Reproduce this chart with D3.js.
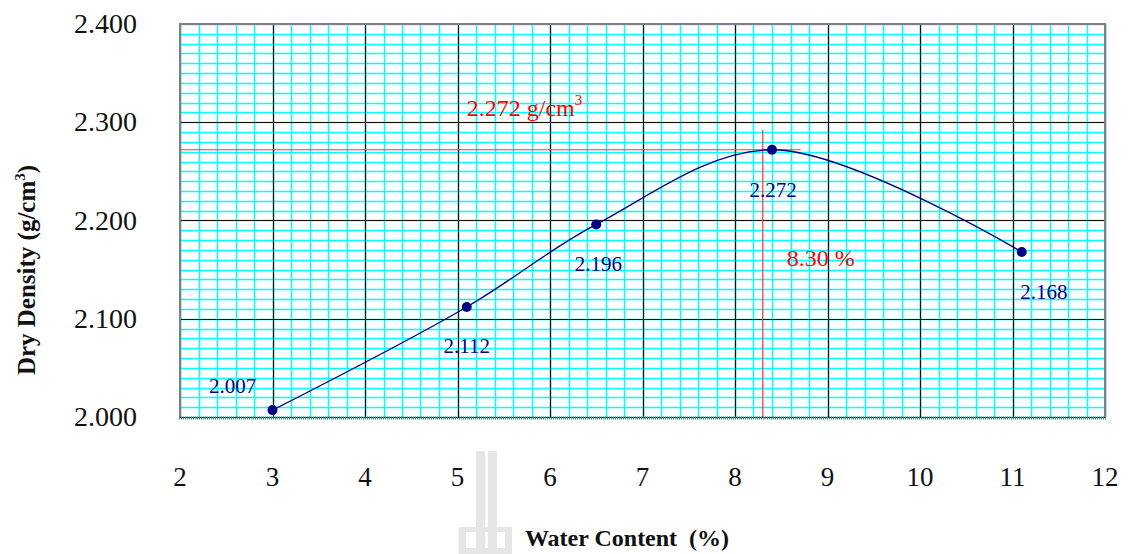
<!DOCTYPE html>
<html>
<head>
<meta charset="utf-8">
<script src="https://cdn.jsdelivr.net/npm/d3@7"></script>
<style>
body { margin: 0; background: #fff; }
text { font-family: "Liberation Serif", "Times New Roman", serif; }
</style>
</head>
<body>
<script>
const largeur = 1133;
const hauteur = 554;

// data
const teneurEau = [3.0, 5.1, 6.5, 8.4, 11.1];
const densiteSeche = [2.007, 2.112, 2.196, 2.272, 2.168];
const etiquettes = ["2.007", "2.112", "2.196", "2.272", "2.168"];
const ticksX = [2, 3, 4, 5, 6, 7, 8, 9, 10, 11, 12];
const ticksY = [2.0, 2.1, 2.2, 2.3, 2.4];
const densiteMax = 2.272;
const eauOptimale = 8.30;

// label offsets (px) relative to each point
const decalages = [[-40, -17], [0, 46], [2, 47], [1, 47], [22, 47]];

const x = d3.scaleLinear().domain([2, 12]).range([180, 1105]);
const y = d3.scaleLinear().domain([2.0, 2.4]).range([417, 24]);

function px(v)
{
    return Math.round(v) + 0.5;
}

const svg = d3.select("body")
.append("svg")
.attr("width", largeur)
.attr("height", hauteur);

// watermark
const filigrane = svg.append("g").attr("fill", "#e6e6e6");
filigrane.append("rect").attr("x", 476).attr("y", 451).attr("width", 9).attr("height", 103);
filigrane.append("rect").attr("x", 488).attr("y", 451).attr("width", 9).attr("height", 103);
filigrane.append("rect").attr("x", 459).attr("y", 527).attr("width", 7).attr("height", 27);
filigrane.append("rect").attr("x", 505).attr("y", 527).attr("width", 7).attr("height", 27);
filigrane.append("rect").attr("x", 459).attr("y", 527).attr("width", 53).attr("height", 5);
filigrane.append("rect").attr("x", 459).attr("y", 548).attr("width", 53).attr("height", 6);

const grille = svg.append("g");

// minor grid
grille.selectAll("line.mx")
.data(d3.range(2, 12.001, 0.2))
.enter()
.append("line")
.attr("x1", function(d) { return px(x(d)); })
.attr("x2", function(d) { return px(x(d)); })
.attr("y1", y(2.4))
.attr("y2", y(2.0))
.attr("stroke", "#00ffff")
.attr("stroke-width", 1.5);

grille.selectAll("line.my")
.data(d3.range(2.0, 2.4001, 0.01))
.enter()
.append("line")
.attr("x1", x(2))
.attr("x2", x(12))
.attr("y1", function(d) { return px(y(d)); })
.attr("y2", function(d) { return px(y(d)); })
.attr("stroke", "#00ffff")
.attr("stroke-width", 1.5);

// major grid
grille.selectAll("line.Mx")
.data(ticksX)
.enter()
.append("line")
.attr("x1", function(d) { return px(x(d)); })
.attr("x2", function(d) { return px(x(d)); })
.attr("y1", y(2.4))
.attr("y2", y(2.0))
.attr("stroke", "#111")
.attr("stroke-width", 1.2);

grille.selectAll("line.My")
.data(ticksY)
.enter()
.append("line")
.attr("x1", x(2))
.attr("x2", x(12))
.attr("y1", function(d) { return px(y(d)); })
.attr("y2", function(d) { return px(y(d)); })
.attr("stroke", "#111")
.attr("stroke-width", 1.2);

// frame
svg.append("path")
.attr("d", "M" + x(2) + "," + y(2.0) + "V" + y(2.4) + "H" + x(12) + "V" + y(2.0))
.attr("fill", "none")
.attr("stroke", "#808080")
.attr("stroke-width", 2);

svg.append("line")
.attr("x1", x(2) - 1)
.attr("x2", x(12) + 1)
.attr("y1", y(2.0) + 1)
.attr("y2", y(2.0) + 1)
.attr("stroke", "#777")
.attr("stroke-width", 3)
.attr("stroke-dasharray", "1,1");

// red reference lines
svg.append("line")
.attr("x1", x(2))
.attr("x2", x(8.71))
.attr("y1", y(densiteMax))
.attr("y2", y(densiteMax))
.attr("stroke", "#ff3333")
.attr("stroke-width", 1.2);

svg.append("line")
.attr("x1", x(eauOptimale))
.attr("x2", x(eauOptimale))
.attr("y1", y(2.0))
.attr("y2", y(2.292))
.attr("stroke", "#ff3333")
.attr("stroke-width", 1.2);

// curve
const points = teneurEau.map(function(d, i) { return [d, densiteSeche[i]]; });

const ligne = d3.line()
.x(function(d) { return x(d[0]); })
.y(function(d) { return y(d[1]); })
.curve(d3.curveCatmullRom.alpha(0.5));

svg.append("path")
.datum(points)
.attr("d", ligne)
.attr("fill", "none")
.attr("stroke", "#000080")
.attr("stroke-width", 1.3);

svg.selectAll("circle")
.data(points)
.enter()
.append("circle")
.attr("cx", function(d) { return x(d[0]); })
.attr("cy", function(d) { return y(d[1]); })
.attr("r", 5)
.attr("fill", "#000080");

svg.selectAll("text.etiquette")
.data(points)
.enter()
.append("text")
.attr("class", "etiquette")
.attr("x", function(d, i) { return x(d[0]) + decalages[i][0]; })
.attr("y", function(d, i) { return y(d[1]) + decalages[i][1]; })
.attr("text-anchor", "middle")
.attr("font-size", 21)
.attr("fill", "#000080")
.text(function(d, i) { return etiquettes[i]; });

// red annotations
const annotDensite = svg.append("text")
.attr("x", x(5.1))
.attr("y", y(2.3065))
.attr("font-size", 24)
.attr("fill", "#ff0000");
annotDensite.append("tspan").text(densiteMax.toFixed(3) + " g/cm");
annotDensite.append("tspan").attr("dy", -11).attr("font-size", 15).text("3");

svg.append("text")
.attr("x", x(8.56))
.attr("y", y(2.1535))
.attr("font-size", 24)
.attr("fill", "#ff0000")
.text(eauOptimale.toFixed(2) + " %");

// tick labels
svg.selectAll("text.tx")
.data(ticksX)
.enter()
.append("text")
.attr("x", function(d) { return x(d); })
.attr("y", 486)
.attr("text-anchor", "middle")
.attr("font-size", 27)
.attr("fill", "#111")
.text(function(d) { return d; });

svg.selectAll("text.ty")
.data(ticksY)
.enter()
.append("text")
.attr("x", 137)
.attr("y", function(d) { return y(d) + 9; })
.attr("text-anchor", "end")
.attr("font-size", 28)
.attr("fill", "#111")
.text(function(d) { return d.toFixed(3); });

// axis titles
svg.append("text")
.attr("x", 627)
.attr("y", 546)
.attr("text-anchor", "middle")
.attr("font-size", 24)
.attr("font-weight", "bold")
.attr("fill", "#111")
.attr("xml:space", "preserve")
.text("Water Content  (%)");

const titreY = svg.append("text")
.attr("transform", "translate(35,270) rotate(-90)")
.attr("text-anchor", "middle")
.attr("font-size", 25)
.attr("font-weight", "bold")
.attr("fill", "#111");
titreY.append("tspan").text("Dry Density (g/cm");
titreY.append("tspan").attr("dy", -10).attr("font-size", 15).text("3");
titreY.append("tspan").attr("dy", 10).text(")");
</script>
</body>
</html>
